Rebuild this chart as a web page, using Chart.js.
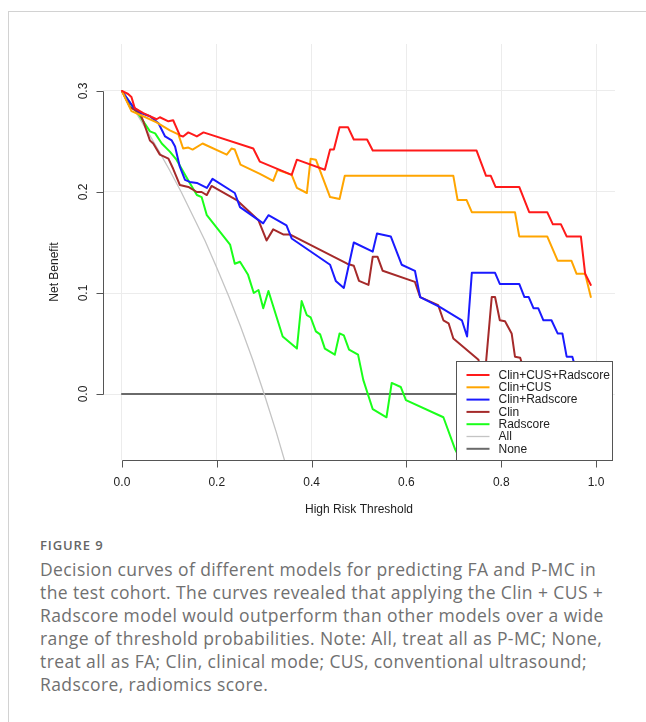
<!DOCTYPE html>
<html>
<head>
<meta charset="utf-8">
<script src="https://cdn.jsdelivr.net/npm/chart.js@4.4.1/dist/chart.umd.min.js"></script>
<style>
  body { margin: 0; width: 646px; height: 722px; background: #fff; overflow: hidden; position: relative; }
  .frame { position: absolute; left: 8px; top: 11px; width: 700px; height: 800px; border-top: 1px solid #d2d2d2; border-left: 1px solid #d2d2d2; }
  .plot { position: absolute; left: 0; top: 0; width: 646px; height: 530px; }
  .fig-label { position: absolute; left: 40px; top: 536px; font: 600 13px "Open Sans", sans-serif; color: #666; letter-spacing: 0.9px; line-height: 18px; }
  .caption { position: absolute; left: 40px; top: 558px; font: 17.5px "Open Sans", sans-serif; color: #707070; letter-spacing: 0.4px; line-height: 23px; white-space: nowrap; }
</style>
</head>
<body>
<div class="frame"></div>
<div class="plot"><canvas id="chart"></canvas></div>
<div class="fig-label">FIGURE 9</div>
<div class="caption">
  Decision curves of different models for predicting FA and P-MC in<br>
  the test cohort. The curves revealed that applying the Clin + CUS +<br>
  Radscore model would outperform than other models over a wide<br>
  range of threshold probabilities. Note: All, treat all as P-MC; None,<br>
  treat all as FA; Clin, clinical mode; CUS, conventional ultrasound;<br>
  Radscore, radiomics score.
</div>

<script>
const xTicks = [0, 0.2, 0.4, 0.6, 0.8, 1.0];
const yTicks = [0, 0.1, 0.2, 0.3];

const clinCusRadX = [0, .013, .02, .027, .045, .073, .080, .098, .108, .122, .129, .140, .158, .172, .277, .291, .358, .369, .428, .439, .447, .459, .477, .489, .517, .529, .748, .768, .778, .788, .838, .859, .897, .909, .926, .938, .968, .977, .989];
const clinCusRadNB = [.3, .297, .294, .283, .278, .272, .274, .270, .271, .256, .255, .259, .255, .259, .243, .230, .217, .232, .222, .242, .242, .264, .264, .252, .252, .241, .241, .216, .216, .205, .205, .180, .180, .168, .168, .156, .156, .119, .108];

const clinCusX = [0, .020, .045, .073, .101, .119, .129, .140, .149, .170, .221, .231, .238, .250, .291, .319, .328, .358, .369, .390, .398, .409, .439, .459, .470, .699, .708, .727, .738, .829, .838, .897, .919, .948, .959, .977, .989];
const clinCusNB = [.3, .280, .275, .269, .261, .257, .243, .244, .242, .248, .237, .243, .242, .227, .218, .211, .222, .217, .204, .199, .233, .232, .195, .193, .216, .216, .192, .192, .180, .180, .156, .156, .132, .132, .119, .119, .096];

const clinRadX = [0, .024, .041, .059, .077, .091, .105, .112, .122, .133, .143, .158, .179, .191, .238, .249, .298, .309, .347, .358, .439, .451, .468, .489, .529, .538, .567, .590, .618, .629, .671, .717, .728, .738, .787, .797, .838, .849, .858, .868, .878, .889, .906, .919, .929, .938, .950, .960];
const clinRadNB = [.3, .284, .278, .275, .268, .255, .251, .245, .225, .212, .210, .209, .204, .213, .199, .185, .169, .177, .167, .154, .128, .112, .105, .150, .141, .159, .156, .128, .122, .096, .086, .073, .057, .120, .120, .109, .109, .096, .096, .085, .085, .073, .073, .060, .060, .037, .037, .020];

const clinX = [0, .017, .038, .045, .059, .066, .080, .098, .108, .122, .140, .158, .168, .179, .189, .242, .288, .305, .319, .340, .354, .475, .489, .500, .520, .529, .539, .550, .618, .629, .667, .678, .689, .699, .752, .763, .780, .787, .797, .808, .822, .829, .840, .850];
const clinNB = [.3, .284, .278, .270, .251, .248, .237, .233, .223, .207, .205, .200, .200, .197, .206, .192, .172, .152, .163, .158, .158, .129, .127, .112, .108, .136, .136, .122, .111, .096, .088, .073, .070, .055, .034, .005, .096, .096, .073, .072, .060, .037, .036, .020];

const radX = [0, .017, .038, .059, .070, .084, .101, .115, .143, .158, .168, .179, .221, .228, .238, .249, .266, .278, .288, .298, .309, .339, .369, .379, .390, .398, .409, .418, .428, .449, .459, .468, .479, .498, .509, .529, .558, .569, .588, .599, .678, .703, .720];
const radNB = [.3, .288, .275, .260, .258, .248, .240, .232, .209, .197, .195, .177, .152, .148, .129, .131, .118, .100, .103, .085, .102, .057, .045, .092, .078, .076, .062, .059, .045, .039, .060, .058, .044, .039, .014, -.015, -.023, .011, .007, -.006, -.023, -.055, -.070];

const allX = [0, .025, .05, .075, .1, .125, .15, .175, .2, .225, .25, .275, .3, .325, .35];
const allNB = [.3, .282, .263, .243, .222, .200, .176, .152, .125, .097, .067, .035, 0, -.037, -.077];

const noneX = [0, 1];
const noneNB = [0, 0];

const seriesNames = ['Clin+CUS+Radscore', 'Clin+CUS', 'Clin+Radscore', 'Clin', 'Radscore', 'All', 'None'];
const seriesColors = ['#ff1a1a', '#ffa500', '#1a1aff', '#a52a2a', '#1aff1a', '#c4c4c4', '#6a6a6a'];
const seriesWidths = [2, 2, 2, 2, 2, 1.3, 2];
const seriesX = [clinCusRadX, clinCusX, clinRadX, clinX, radX, allX, noneX];
const seriesNB = [clinCusRadNB, clinCusNB, clinRadNB, clinNB, radNB, allNB, noneNB];

const textFont = '12px "Liberation Sans", Arial, sans-serif';

function makeDataset(i) {
  return {
    label: seriesNames[i],
    data: seriesX[i].map((x, k) => ({ x: x, y: seriesNB[i][k] })),
    borderColor: seriesColors[i],
    borderWidth: seriesWidths[i],
    borderJoinStyle: 'round',
    borderCapStyle: 'round',
    pointRadius: 0,
    tension: 0,
    fill: false,
    clip: 0
  };
}

// R style axes: lines only over the tick range, rotated y labels
const rAxes = {
  id: 'rAxes',
  afterDatasetsDraw(chart) {
    const ctx = chart.ctx;
    const sx = chart.scales.x;
    const sy = chart.scales.y;
    const area = chart.chartArea;
    ctx.save();
    ctx.strokeStyle = '#555';
    ctx.lineWidth = 1;
    ctx.beginPath();
    const xb = Math.round(area.bottom) + 0.5;
    ctx.moveTo(Math.round(sx.getPixelForValue(xTicks[0])) + 0.5, xb);
    ctx.lineTo(Math.round(sx.getPixelForValue(xTicks[xTicks.length - 1])) + 0.5, xb);
    xTicks.forEach(v => {
      const px = Math.round(sx.getPixelForValue(v)) + 0.5;
      ctx.moveTo(px, xb);
      ctx.lineTo(px, xb + 7);
    });
    const yl = Math.round(area.left) + 0.5;
    ctx.moveTo(yl, Math.round(sy.getPixelForValue(yTicks[0])) + 0.5);
    ctx.lineTo(yl, Math.round(sy.getPixelForValue(yTicks[yTicks.length - 1])) + 0.5);
    yTicks.forEach(v => {
      const py = Math.round(sy.getPixelForValue(v)) + 0.5;
      ctx.moveTo(yl, py);
      ctx.lineTo(yl - 7, py);
    });
    ctx.stroke();

    ctx.fillStyle = '#222';
    ctx.font = textFont;
    ctx.textAlign = 'center';
    ctx.textBaseline = 'middle';
    xTicks.forEach(v => ctx.fillText(v.toFixed(1), sx.getPixelForValue(v), area.bottom + 23));
    ctx.fillText('High Risk Threshold', (area.left + area.right) / 2, area.bottom + 50);
    yTicks.forEach(v => {
      ctx.save();
      ctx.translate(area.left - 19, sy.getPixelForValue(v));
      ctx.rotate(-Math.PI / 2);
      ctx.fillText(v.toFixed(1), 0, 0);
      ctx.restore();
    });
    ctx.save();
    ctx.translate(area.left - 48, 272);
    ctx.rotate(-Math.PI / 2);
    ctx.fillText('Net Benefit', 0, 0);
    ctx.restore();

    // legend box in the bottom right corner
    const boxW = 156, boxH = 99;
    const bx = Math.round(area.right) - 3 - boxW + 0.5;
    const by = Math.round(area.bottom) - boxH + 0.5;
    ctx.fillStyle = '#fff';
    ctx.fillRect(bx, by, boxW, boxH);
    ctx.strokeStyle = '#555';
    ctx.lineWidth = 1;
    ctx.strokeRect(bx, by, boxW, boxH);
    ctx.textAlign = 'left';
    seriesNames.forEach((name, i) => {
      const ry = by + 13.5 + i * 12.3;
      ctx.strokeStyle = seriesColors[i];
      ctx.lineWidth = seriesWidths[i];
      ctx.beginPath();
      ctx.moveTo(bx + 10, ry);
      ctx.lineTo(bx + 33, ry);
      ctx.stroke();
      ctx.fillStyle = '#222';
      ctx.fillText(name, bx + 42, ry + 0.5);
    });
    ctx.restore();
  }
};

function gridScale(min, max, ticks) {
  return {
    type: 'linear',
    min: min,
    max: max,
    afterBuildTicks: s => { s.ticks = ticks.map(v => ({ value: v })); },
    ticks: { display: false },
    grid: { color: '#ececec', lineWidth: 1, drawTicks: false },
    border: { display: false }
  };
}

const chart = new Chart(document.getElementById('chart'), {
  type: 'line',
  data: { datasets: seriesNames.map((n, i) => makeDataset(i)) },
  options: {
    responsive: true,
    maintainAspectRatio: false,
    devicePixelRatio: 1,
    animation: false,
    parsing: false,
    layout: { padding: { left: 103, right: 31, top: 44, bottom: 70 } },
    plugins: { legend: { display: false }, tooltip: { enabled: false } },
    scales: {
      x: gridScale(-0.04, 1.04, xTicks),
      y: gridScale(-0.0653, 0.3465, yTicks)
    }
  },
  plugins: [rAxes]
});
</script>
</body>
</html>
